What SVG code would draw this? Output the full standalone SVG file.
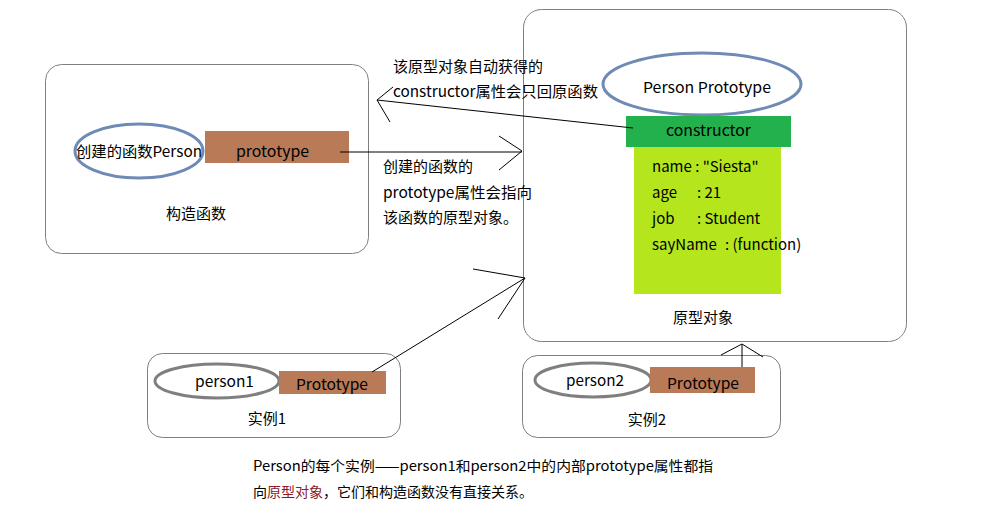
<svg xmlns="http://www.w3.org/2000/svg" width="1002" height="514" viewBox="0 0 1002 514">
<style>
text{font-family:"Noto Sans CJK SC","Noto Sans",sans-serif;font-size:15px;fill:#000}
.box{fill:#fff;stroke:#7f7f7f;stroke-width:1}
.ell{fill:#fff;stroke:#6f8ab5;stroke-width:3}
.gell{fill:#fff;stroke:#7f7f7f;stroke-width:3}
.brown{fill:#b97a57}
.c{text-anchor:middle}
.sm{font-size:14px}
.ln{stroke:#000;stroke-width:1;fill:none}
</style>
<rect width="1002" height="514" fill="#fff"/>
<g id="constructor-fn">
<rect class="box" x="45.5" y="64.5" width="323" height="189" rx="16"/>
<ellipse class="ell" cx="139" cy="151" rx="64" ry="27"/>
<text x="76" y="157" textLength="126" lengthAdjust="spacingAndGlyphs">创建的函数Person</text>
<rect class="brown" x="205" y="131" width="144" height="32"/>
<text x="236" y="157" textLength="73" lengthAdjust="spacingAndGlyphs">prototype</text>
<text x="196" y="219" class="c">构造函数</text>
</g>
<g id="prototype-obj">
<rect class="box" x="523.5" y="9.5" width="383" height="332" rx="18"/>
<ellipse class="ell" cx="702" cy="84" rx="99" ry="31"/>
<text x="643" y="93" textLength="128" lengthAdjust="spacingAndGlyphs">Person Prototype</text>
<rect x="626" y="116" width="165" height="31" fill="#22b14c"/>
<text x="666" y="136" textLength="85" lengthAdjust="spacingAndGlyphs">constructor</text>
<rect x="634" y="147" width="147" height="147" fill="#b5e61d"/>
<text x="652" y="172">name : "Siesta"</text>
<text x="652" y="198">age</text><text x="697" y="198">: 21</text>
<text x="652" y="224">job</text><text x="697" y="224">: Student</text>
<text x="652" y="250">sayName</text><text x="725" y="250">: (function)</text>
<text x="703" y="323" class="c">原型对象</text>
</g>
<g id="instance1">
<rect class="box" x="147.5" y="353.5" width="253" height="84" rx="15"/>
<ellipse class="gell" cx="217" cy="381" rx="62" ry="17"/>
<text x="195" y="387" textLength="59" lengthAdjust="spacingAndGlyphs">person1</text>
<rect class="brown" x="279" y="371" width="107" height="23"/>
<text x="296" y="390" textLength="72" lengthAdjust="spacingAndGlyphs">Prototype</text>
<text x="267" y="424" class="c">实例1</text>
</g>
<g id="instance2">
<rect class="box" x="522.5" y="355.5" width="258" height="82" rx="15"/>
<ellipse class="gell" cx="593" cy="380" rx="58" ry="17"/>
<text x="566" y="386" textLength="58" lengthAdjust="spacingAndGlyphs">person2</text>
<rect class="brown" x="650" y="367" width="105" height="26"/>
<text x="667" y="389" textLength="72" lengthAdjust="spacingAndGlyphs">Prototype</text>
<text x="647" y="425" class="c">实例2</text>
</g>
<g id="connectors">
<polyline class="ln" points="340,152 522,152"/>
<polyline class="ln" points="499,136 522,151 499,170"/>
<polyline class="ln" points="633,128 377,100"/>
<polyline class="ln" points="393,87 377,100 390,122"/>
<polyline class="ln" points="372,372 525,278"/>
<polyline class="ln" points="473,269 525,278 498,319"/>
<polyline class="ln" points="742,367 742,344"/>
<polyline class="ln" points="721,355 742,344 763,357"/>
</g>
<g id="labels">
<text x="393" y="72">该原型对象自动获得的</text>
<text x="393" y="97" textLength="205" lengthAdjust="spacingAndGlyphs">constructor属性会只回原函数</text>
<text x="383" y="172">创建的函数的</text>
<text x="383" y="198" textLength="149" lengthAdjust="spacingAndGlyphs">prototype属性会指向</text>
<text x="383" y="223">该函数的原型对象。</text>
<text x="253" y="471" class="sm" textLength="460" lengthAdjust="spacingAndGlyphs">Person的每个实例——person1和person2中的内部prototype属性都指</text>
<text x="253" y="497" class="sm">向<tspan fill="#8b1a2b">原型对象</tspan>，它们和构造函数没有直接关系。</text>
</g>
</svg>
